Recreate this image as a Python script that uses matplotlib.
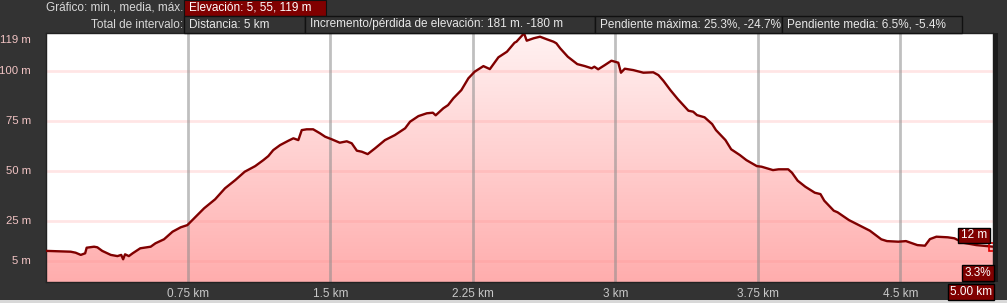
import numpy as np
import matplotlib
matplotlib.use("Agg")
import matplotlib.pyplot as plt
from matplotlib.patches import Rectangle
from matplotlib.colors import LinearSegmentedColormap

plt.rcParams['font.family'] = ['Liberation Sans', 'DejaVu Sans']

# ---- data ----
dist_km = [0.008, 0.134, 0.16, 0.187, 0.21, 0.218, 0.257, 0.274, 0.30, 0.345, 0.38, 0.40, 0.41, 0.42,
           0.44, 0.46, 0.50, 0.555, 0.58, 0.625, 0.67, 0.713, 0.748, 0.774, 0.80, 0.836, 0.85, 0.894,
           0.946, 1.0, 1.05, 1.105, 1.148, 1.174, 1.20, 1.236, 1.28, 1.306, 1.332, 1.35, 1.376, 1.41,
           1.446, 1.473, 1.508, 1.55, 1.587, 1.613, 1.64, 1.666, 1.697, 1.736, 1.788, 1.84, 1.894,
           1.92, 1.964, 2.008, 2.04, 2.055, 2.095, 2.12, 2.148, 2.19, 2.227, 2.26, 2.306, 2.34, 2.385,
           2.43, 2.47, 2.48, 2.52, 2.534, 2.57, 2.604, 2.64, 2.675, 2.69, 2.71, 2.75, 2.80, 2.84,
           2.876, 2.89, 2.91, 2.945, 2.98, 3.016, 3.03, 3.05, 3.095, 3.148, 3.2, 3.227, 3.253, 3.29,
           3.33, 3.385, 3.41, 3.43, 3.47, 3.51, 3.53, 3.58, 3.61, 3.656, 3.69, 3.745, 3.77, 3.83,
           3.86, 3.91, 3.93, 3.96, 4.0, 4.05, 4.08, 4.10, 4.15, 4.17, 4.23, 4.34, 4.40, 4.43, 4.49,
           4.53, 4.59, 4.63, 4.656, 4.69, 4.75, 4.785, 4.83, 4.90, 4.99]
elev_m = [9.9, 9.5, 9.0, 7.9, 8.7, 11.5, 12.0, 11.7, 9.9, 7.9, 7.3, 7.9, 5.7, 8.2,
          7.3, 8.7, 11.2, 12.0, 13.7, 15.7, 19.5, 21.7, 22.8, 25.3, 27.8, 31.2, 32.3, 35.7,
          41.2, 45.3, 49.5, 52.3, 55.3, 57.3, 60.3, 62.8, 65.0, 66.2, 65.3, 70.3, 70.7, 70.7,
          68.7, 67.0, 65.7, 64.0, 64.7, 63.7, 60.0, 59.5, 58.3, 61.2, 65.3, 67.8, 71.2,
          74.5, 77.3, 78.7, 79.0, 77.7, 81.2, 82.8, 86.2, 90.3, 96.2, 99.5, 102.3, 100.8, 106.7,
          109.5, 114.0, 114.5, 118.7, 115.0, 116.2, 117.0, 115.7, 114.5, 113.7, 111.2, 107.0, 103.3, 102.3,
          101.2, 102.0, 100.7, 102.8, 105.0, 104.0, 99.0, 101.0, 100.3, 99.0, 99.2, 97.8, 95.0, 90.3,
          85.7, 80.0, 79.5, 77.8, 76.7, 73.3, 70.3, 65.3, 60.7, 57.8, 55.3, 52.3, 52.0, 50.3,
          50.7, 50.7, 49.0, 45.0, 42.0, 39.0, 38.3, 35.0, 30.0, 29.2, 25.3, 20.0, 15.7, 14.8, 14.5,
          14.8, 12.8, 12.5, 15.8, 17.0, 16.7, 16.2, 14.0, 12.8, 12.0]

x_ticks = [0.75, 1.5, 2.25, 3.0, 3.75, 4.5]
x_tick_labels = ["0.75 km", "1.5 km", "2.25 km", "3 km", "3.75 km", "4.5 km"]
y_ticks = [5, 25, 50, 75, 100, 119]
y_tick_labels = ["5 m", "25 m", "50 m", "75 m", "100 m", "119 m"]
grid_y = [5, 25, 50, 75, 100]

header_row1_label = "Gráfico: min., media, máx."
header_row1_box = "Elevación: 5, 55, 119 m"
header_row2_label = "Total de intervalo:"
header_row2_boxes = ["Distancia: 5 km", "Incremento/pérdida de elevación: 181 m. -180 m",
                     "Pendiente máxima: 25.3%, -24.7%", "Pendiente media: 6.5%, -5.4%"]
end_elev_label = "12 m"
end_slope_label = "3.3%"
end_dist_label = "5.00 km"

W, H = 1007, 303
BG = '#333333'
DARKRED = '#800000'

fig = plt.figure(figsize=(W / 100, H / 100), dpi=100, facecolor=BG)


def fx(px):
    return px / W


def fy(py):
    return 1 - py / H


def fig_rect(x0, y0, x1, y1, fc, ec='none', lw=1.0, z=1):
    r = Rectangle((fx(x0), fy(y1)), fx(x1) - fx(x0), fy(y0) - fy(y1),
                  transform=fig.transFigure, facecolor=fc, edgecolor=ec, linewidth=lw, zorder=z)
    fig.add_artist(r)


ax_l, ax_r, ax_t, ax_b = 46, 993, 33, 282
ax = fig.add_axes([fx(ax_l), fy(ax_b), fx(ax_r) - fx(ax_l), fy(ax_t) - fy(ax_b)])
ax.set_facecolor('white')
xmin, xmax = 0.004, 4.988
ymin, ymax = -5.65, 118.85
ax.set_xlim(xmin, xmax)
ax.set_ylim(ymin, ymax)

# gradient fill under the profile
poly = ax.fill_between(dist_km, elev_m, ymin, facecolor='none', edgecolor='none')
grad = np.linspace(0, 1, 256).reshape(-1, 1)
cmap = LinearSegmentedColormap.from_list('g', ['#ffadad', '#fff2f2'])
im = ax.imshow(grad, extent=[xmin, xmax, ymin, ymax], origin='lower', aspect='auto',
               cmap=cmap, zorder=1)
im.set_clip_path(poly.get_paths()[0], transform=ax.transData)

# grid lines
for yv in grid_y:
    ax.axhline(yv, color=(1.0, 0.55, 0.55, 0.22), lw=2.0, zorder=2)
for xv in x_ticks:
    ax.axvline(xv, color=(0.55, 0.55, 0.55, 0.55), lw=2.0, zorder=2)

ax.plot(dist_km, elev_m, color=DARKRED, lw=1.7, zorder=3, solid_joinstyle='round')
ax.plot([dist_km[-1]], [elev_m[-1]], marker='s', ms=6, mfc='none', mec='#dd0000', mew=1.2,
        zorder=4, clip_on=False)

ax.set_xticks([])
ax.set_yticks([])
for s in ax.spines.values():
    s.set_color('#222222')
    s.set_linewidth(1.0)

# tick labels
for xv, lab in zip(x_ticks, x_tick_labels):
    ax.text(xv, -0.05, lab, transform=ax.get_xaxis_transform(), ha='center', va='center',
            color='#c8c8c8', fontsize=8.5)
for yv, lab in zip(y_ticks, y_tick_labels):
    yy = yv if yv != 119 else 115.3
    ax.text(-15 / (ax_r - ax_l), yy, lab, transform=ax.get_yaxis_transform(),
            ha='right', va='center', color='#f2c4c4', fontsize=8.2)

# right-side strip and bottom strip
fig_rect(993, 33, 998, 282, '#1c1c1c', z=1)
fig_rect(0, 300, 1007, 303, '#d8d8d8', z=1)

# header
fig.text(fx(183), fy(8), header_row1_label, ha='right', va='center', color='#d8d8d8', fontsize=8.5)
fig_rect(184, 0, 326, 16, DARKRED, ec='#111111', lw=0.8, z=2)
fig.text(fx(189), fy(8), header_row1_box, ha='left', va='center', color='white', fontsize=8.5, zorder=3)

fig.text(fx(183), fy(24.5), header_row2_label, ha='right', va='center', color='#d8d8d8', fontsize=8.5)
bx = [184, 305, 595, 782, 962]
for i, lab in enumerate(header_row2_boxes):
    fig_rect(bx[i], 16, bx[i + 1], 32.5, BG, ec='#111111', lw=1.0, z=2)
    fig.text(fx(bx[i] + 5), fy(24.5), lab, ha='left', va='center', color='#e8e8e8', fontsize=8.5,
             zorder=3)


def end_box(x0, y0, x1, y1, text):
    fig_rect(x0, y0, x1, y1, DARKRED, ec='black', lw=1.0, z=5)
    fig.text(fx((x0 + x1) / 2), fy((y0 + y1) / 2), text, ha='center', va='center',
             color='white', fontsize=8.5, zorder=6)


end_box(958, 228, 990, 243, end_elev_label)
end_box(962, 265, 994, 281, end_slope_label)
end_box(948, 284, 994, 300, end_dist_label)

fig.savefig('out.png', dpi=100, facecolor=BG)
